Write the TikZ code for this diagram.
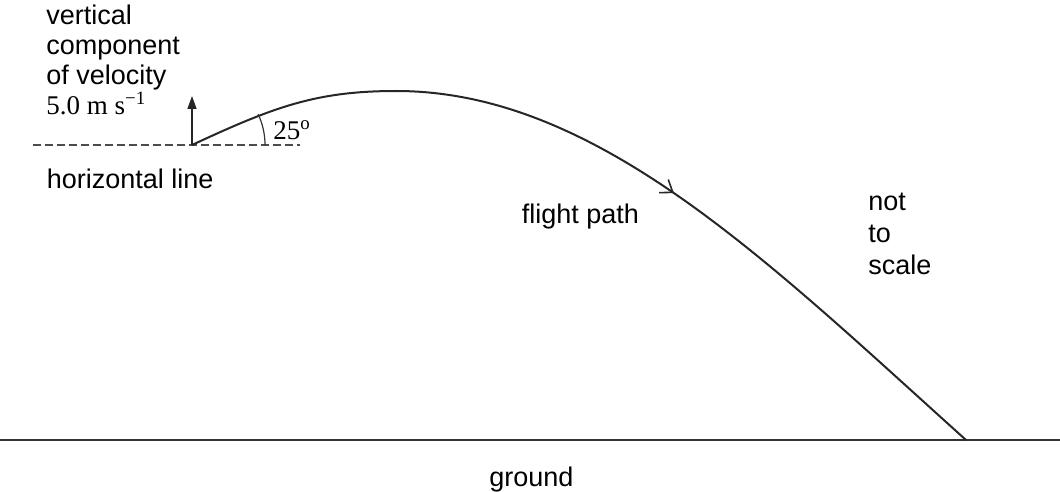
\documentclass[tikz,border=0pt]{standalone}
\usepackage{fontspec}
\setmainfont{Liberation Sans}
\newfontfamily\tnr{Liberation Serif}
\usetikzlibrary{arrows.meta,decorations.markings}
\begin{document}
\begin{tikzpicture}[x=0.5pt,y=-0.5pt,
  lbl/.style={inner sep=0pt, font=\fontsize{13.5}{15}\selectfont, align=left},
  lblr/.style={inner sep=0pt, font=\fontsize{13.5}{16}\selectfont, align=left},
  ser/.style={inner sep=0pt, font=\fontsize{13.5}{15}\selectfont\tnr},
  pathline/.style={line width=1pt, black!85},
  groundline/.style={line width=1.1pt, black!80},
  dashline/.style={line width=0.7pt, black!70, dash pattern=on 4pt off 2pt},
  velarrow/.style={line width=0.8pt, black!85, -{Triangle[length=6.5pt,width=4.5pt]}},
  midarrow/.style={postaction={decorate, decoration={markings,
     mark=at position 0.44 with {\arrow{Straight Barb[length=5.5pt,width=8pt,line width=0.8pt]}}}}}
]
\useasboundingbox (0,0) rectangle (1060,492);

% coordinates
\coordinate (L) at (192,145);
\coordinate (P) at (396,91);
\coordinate (E) at (966,440);
\coordinate (hl1) at (33,145);
\coordinate (hl2) at (300,145);
\coordinate (vt) at (192,96);
\coordinate (g1) at (0,440);
\coordinate (g2) at (1060,440);

% ground
\draw[groundline] (g1) -- (g2);

% horizontal dashed line
\draw[dashline] (hl1) -- (hl2);

% vertical component arrow
\draw[velarrow] (L) -- (vt);

% flight path
\draw[pathline] (L) .. controls (273.6,107) and (316,91) .. (P);
\draw[pathline, midarrow] (P) .. controls (596,91) and (766,260) .. (E);

% angle arc
\draw[line width=0.6pt, black!80] (L) ++(73,0) arc[start angle=0, end angle=-25, radius=73];

% labels
\node[lbl, anchor=north west] (vlab) at (46,5)
  {vertical\\component\\of velocity\\{\tnr 5.0 m s\textsuperscript{−1}}};
\node[ser, anchor=base west] (ang) at (273,140) {25\textsuperscript{o}};
\node[lbl, anchor=base west] (hlab) at (46.5,188) {horizontal line};
\node[lbl, anchor=base west] (fp) at (521.5,223) {flight path};
\node[lblr, anchor=north west] (nts) at (868,193) {not\\to\\scale};
\node[lbl, anchor=base west] (gr) at (489,486) {ground};
\end{tikzpicture}
\end{document}
